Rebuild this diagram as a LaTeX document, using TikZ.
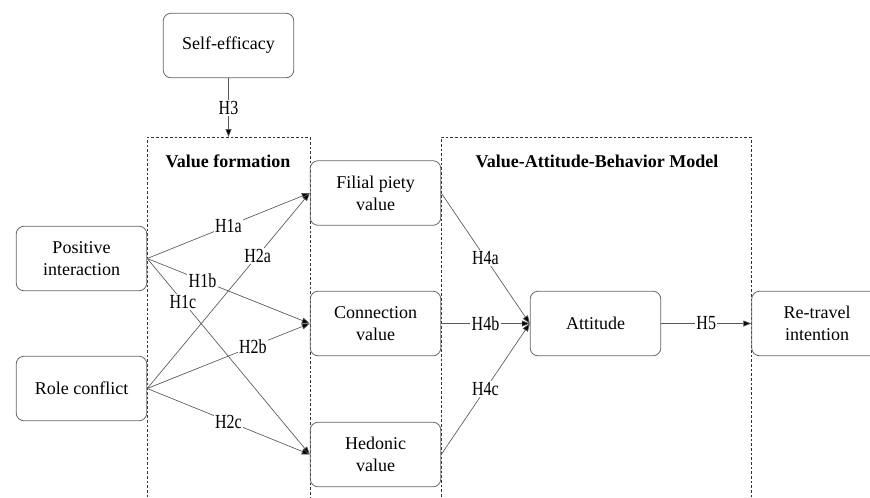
\documentclass[tikz,border=0pt]{standalone}
\usepackage{fontspec}
\setmainfont{Liberation Serif}
\usetikzlibrary{arrows.meta}
\begin{document}
\begin{tikzpicture}[x=0.75pt,y=-0.75pt,
  box/.style={draw=black!60, rounded corners=6pt, line width=0.6pt, minimum width=98pt, minimum height=48.5pt, align=center, inner sep=0pt, font=\fontsize{13.5}{16.5}\selectfont},
  dashbox/.style={draw=black!80, dash pattern=on 2pt off 1.5pt, line width=0.5pt, inner sep=0pt},
  title/.style={font=\fontsize{13.5}{16}\selectfont\bfseries},
  conn/.style={draw=black!65, line width=0.5pt, -{Triangle[length=6pt,width=4.5pt,fill=black]}},
  lab/.style={fill=white, inner sep=1pt, font=\fontsize{15}{17}\selectfont},
]
\useasboundingbox (0,0) rectangle (870,497);
\clip (0,0) rectangle (870,497);
% dashed frames
\node[dashbox, minimum width=122pt, minimum height=300pt, anchor=north] (vf) at (228.5,137) {};
\node[dashbox, minimum width=232.5pt, minimum height=300pt, anchor=north] (vab) at (596,137) {};
\node[title] (vft) at (228,161) {Value formation};
\node[title] (vabt) at (597,161) {Value-Attitude-Behavior Model};
% boxes
\node[box] (se) at (228.5,45.5) {Self-efficacy};
\node[box] (pi) at (81.5,258.5) {Positive\\interaction};
\node[box] (rc) at (81.5,388.5) {Role conflict};
\node[box] (fp) at (375.5,193) {Filial piety\\value};
\node[box] (cv) at (375.5,323.5) {Connection\\value};
\node[box] (hv) at (375.5,454.5) {Hedonic\\value};
\node[box] (at) at (595.5,323.5) {Attitude};
\node[box] (rt) at (817,323.5) {Re-travel\\intention};
% connectors
\newcommand{\hl}[1]{\scalebox{0.8}[1]{#1}}
\draw[conn] (se.south) -- node[lab]{\hl{H3}} (vf.north);
\draw[conn] (pi.east) -- node[lab, pos=0.5]{\hl{H1a}} (fp.west);
\draw[conn] (pi.east) -- node[lab, pos=0.34]{\hl{H1b}} (cv.west);
\draw[conn] (pi.east) -- node[lab, pos=0.22]{\hl{H1c}} (hv.west);
\draw[conn] (rc.east) -- node[lab, pos=0.68]{\hl{H2a}} (fp.west);
\draw[conn] (rc.east) -- node[lab, pos=0.65]{\hl{H2b}} (cv.west);
\draw[conn] (rc.east) -- node[lab, pos=0.5]{\hl{H2c}} (hv.west);
\draw[conn] (fp.east) -- node[lab, pos=0.5]{\hl{H4a}} (at.west);
\draw[conn] (cv.east) -- node[lab, pos=0.5]{\hl{H4b}} (at.west);
\draw[conn] (hv.east) -- node[lab, pos=0.5]{\hl{H4c}} (at.west);
\draw[conn] (at.east) -- node[lab, pos=0.5]{\hl{H5}} (rt.west);
\end{tikzpicture}
\end{document}
